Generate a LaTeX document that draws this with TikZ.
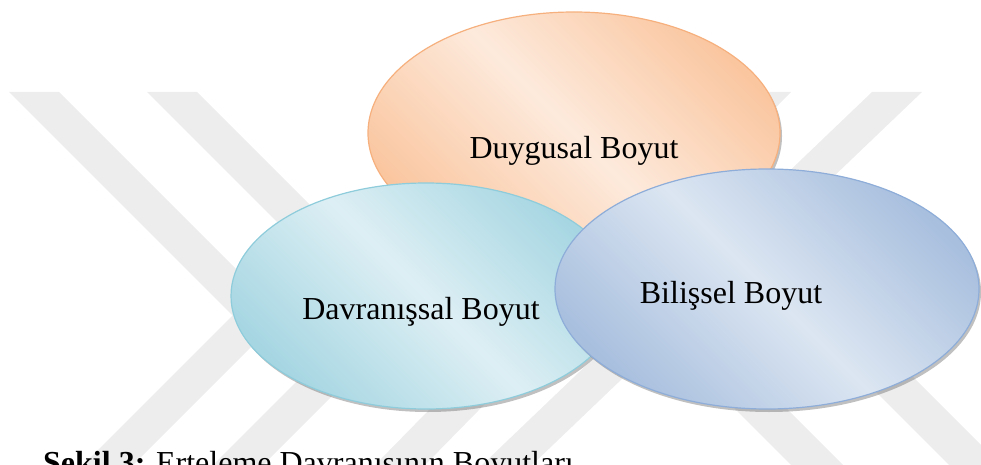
\documentclass[tikz,border=0pt]{standalone}
\usepackage{fontspec}
\setmainfont{Liberation Serif}
\usepackage{xcolor}
\usetikzlibrary{shapes.geometric, shadows}

\definecolor{wmgray}{HTML}{EDEDED}
\definecolor{orgdark}{HTML}{FAC6A0}
\definecolor{orglight}{HTML}{FDEADC}
\definecolor{orgline}{HTML}{F6B07E}
\definecolor{cyndark}{HTML}{A6D6E2}
\definecolor{cynlight}{HTML}{DDEFF4}
\definecolor{cynline}{HTML}{8ECCDB}
\definecolor{bludark}{HTML}{A8BFDE}
\definecolor{blulight}{HTML}{DCE6F2}
\definecolor{bluline}{HTML}{8EADD8}

\begin{document}
\begin{tikzpicture}[
      x=1pt, y=-1pt,
      myellipse/.style={
         ellipse,
         draw=#1line,
         line width=1.2pt,
         inner sep=0pt,
         top color=#1dark,
         bottom color=#1dark,
         middle color=#1light,
         shading angle=-45,
         drop shadow={shadow xshift=2pt, shadow yshift=-3pt,
            opacity=0.45, fill=black!55}},
      mylabel/.style={
         anchor=base,
         inner sep=0pt,
         font=\fontsize{32}{38}\selectfont},
      mystripe/.style={fill=wmgray}
      ]
      \useasboundingbox (0,0) rectangle (981,465);
      \clip (0,0) rectangle (981,465);

      % watermark stripes
      \fill[mystripe] (9,92) -- (59,92) -- (282.5,315.5) -- (133,465)
         -- (83,465) -- (232.5,315.5) -- cycle;
      \fill[mystripe] (147,92) -- (197,92) -- (416.5,311.5) -- (263,465)
         -- (213,465) -- (366.5,311.5) -- cycle;
      \foreach \xt/\xb in {741/375, 872/482}
         \fill[mystripe] (\xt,92) -- (\xt+50,92) -- (\xb+50,465) -- (\xb,465) -- cycle;
      \foreach \xb/\yt in {791/270, 949/255}
         \fill[mystripe] (\xb,465) -- (\xb+52,465) -- (\xb+52-465+\yt,\yt)
            -- (\xb-465+\yt,\yt) -- cycle;

      % the three dimensions
      \node[myellipse=org, minimum width=412pt, minimum height=242pt] at (574,133) (duygu) {};
      \node[myellipse=cyn, minimum width=390pt, minimum height=226pt] at (426,296) (davranis) {};
      \node[myellipse=blu, minimum width=424pt, minimum height=240pt] at (767,289) (bilis) {};

      \node[mylabel] at (574,159) (duyguT) {Duygusal Boyut};
      \node[mylabel] at (421,319) (davranisT) {Davranışsal Boyut};
      \node[mylabel] at (731,303) (bilisT) {Bilişsel Boyut};

      \node[mylabel, anchor=base west] at (43,473) (caption)
         {\textbf{Şekil 3:} Erteleme Davranışının Boyutları};
    \end{tikzpicture}
\end{document}
